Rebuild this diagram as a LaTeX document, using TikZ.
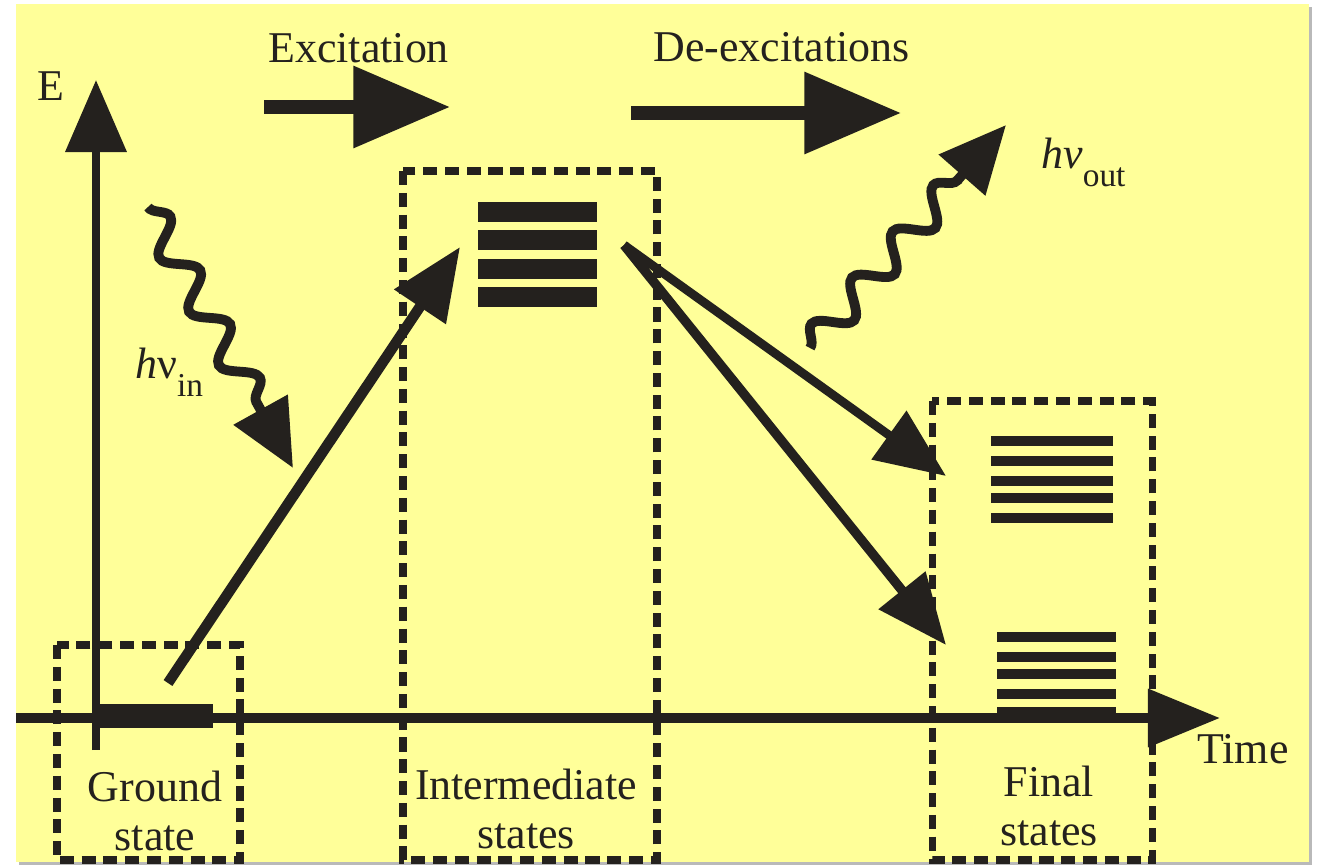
\documentclass[tikz,border=0pt]{standalone}
\usepackage{fontspec}
\setmainfont{Liberation Serif}
\usetikzlibrary{arrows.meta,decorations.pathmorphing,positioning}
\definecolor{paper}{RGB}{255,255,153}
\definecolor{ink}{RGB}{36,33,30}
\newcommand{\lowidx}[1]{\raisebox{-0.42em}{\fontsize{19}{20}\selectfont #1}}

\begin{document}
\begin{tikzpicture}[
            x=0.02cm,y=-0.02cm,draw=ink,line cap=butt,
            main node/.style={font=\fontsize{25}{27.8}\selectfont,text=ink,inner sep=0pt},
            box/.style={line width=4pt,dash pattern=on 8pt off 4.4pt},
            axis/.style={line width=5.4pt,-{Triangle[length=41pt,width=32pt]}},
            big arrow/.style={line width=7.4pt,-{Triangle[length=55pt,width=45pt]}},
            jump/.style={line width=5.4pt,-{Triangle[length=40pt,width=33pt]}},
            photon/.style={line width=5.6pt,decorate,
              decoration={snake,amplitude=8.5pt,segment length=35pt,post length=38pt},
              -{Triangle[length=38pt,width=34pt]}}]
        \useasboundingbox (0,0) rectangle (1317,865);
        \fill[gray!55] (19,7) rectangle (1312,865);
        \fill[paper] (16,4) rectangle (1309,862);

        % Define points
        \coordinate (t0) at (16,718);
        \coordinate (t1) at (1220,718);
        \coordinate (e0) at (96,750);
        \coordinate (e1) at (96,80);
        \coordinate (gs) at (168,683);
        \coordinate (ex) at (460,247);
        \coordinate (dx) at (624,245);
        \coordinate (f1) at (946,476);
        \coordinate (f2) at (946,645);
        \coordinate (in0) at (148,207);
        \coordinate (in1) at (293,468);
        \coordinate (out0) at (810,348);
        \coordinate (out1) at (1006,125);

        % Define labels
        \node[main node,anchor=base] (E) at (51,100) {E};
        \node[main node,anchor=base west] (exc) at (268,63) {Excitation};
        \node[main node,anchor=base west] (dexc) at (653,62) {De-excitations};
        \node[main node,anchor=base west] (hin) at (135,378) {\textit{h}ν\lowidx{in}};
        \node[main node,anchor=base west] (hout) at (1041,168) {\textit{hν}\lowidx{out}};
        \node[main node,anchor=base] (time) at (1243,763) {Time};
        \node[main node,anchor=base,align=center] (gnd) at (155,850) {Ground\\state};
        \node[main node,anchor=base,align=center] (mid) at (526,848) {Intermediate\\states};
        \node[main node,anchor=base,align=center] (fin) at (1049,845) {Final\\states};

        % Draw boxes
        \draw[box] (57,645) rectangle (240,860);
        \draw[box] (403,171) rectangle (657,860);
        \draw[box] (932,401) rectangle (1152,860);

        % Draw levels
        \draw[line width=13.6pt] (96,716) -- (213,716);
        \foreach \y in {212,240,269,297}
            \draw[line width=11.3pt] (478,\y) -- (597,\y);
        \foreach \y in {441,461,481,498,518}
            \draw[line width=5.7pt] (991,\y) -- (1113,\y);
        \foreach \y in {637,657,674,694,712}
            \draw[line width=5.7pt] (997,\y) -- (1116,\y);

        % Draw edges
        \draw[axis] (t0) -- (t1);
        \draw[axis,line width=4.6pt,-{Triangle[length=41pt,width=34pt]}] (e0) -- (e1);
        \draw[big arrow] (264,107) -- (450,107);
        \draw[big arrow] (631,113) -- (901,113);
        \path[ink]
            (gs) edge[jump,line width=6pt,-{Triangle[length=41pt,width=34pt]}] (ex)
            (dx) edge[jump,line width=5pt] (f1)
            (dx) edge[jump] (f2);
        \draw[photon] (in0) -- (in1);
        \draw[photon] (out0) -- (out1);
        \end{tikzpicture}
\end{document}
